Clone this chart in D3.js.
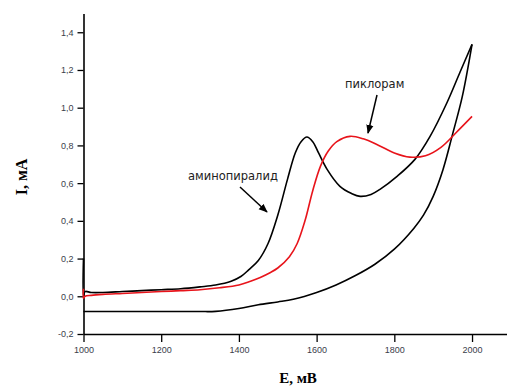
<!DOCTYPE html>
<html>
<head>
<meta charset="utf-8">
<script src="https://cdn.jsdelivr.net/npm/d3@7"></script>
<style>
  body { margin: 0; background: #fff; }
  svg { display: block; }
  .tick text { font-family: "Liberation Sans", Arial, sans-serif; font-size: 9px; fill: #3a3d4a; }
</style>
</head>
<body>
<svg id="chart" width="507" height="387"></svg>
<script>
// aminopyralid, forward scan (black)
const aminoFwdE = [1000, 1000, 1004, 1020, 1050, 1100, 1150, 1200, 1250, 1300, 1340, 1380, 1405, 1425, 1450, 1475, 1500, 1525, 1545, 1560, 1575, 1590, 1605, 1627, 1660, 1690, 1712, 1740, 1763, 1807, 1853, 1892, 1936, 1969, 2000];
const aminoFwdI = [0.20, 0.00, 0.025, 0.02, 0.02, 0.025, 0.03, 0.035, 0.04, 0.05, 0.06, 0.08, 0.105, 0.14, 0.19, 0.28, 0.43, 0.62, 0.76, 0.82, 0.845, 0.82, 0.76, 0.673, 0.583, 0.545, 0.53, 0.54, 0.567, 0.636, 0.726, 0.848, 1.029, 1.188, 1.336];
// aminopyralid, reverse scan (black)
const aminoRevE = [2000, 1975, 1950, 1925, 1900, 1875, 1850, 1800, 1750, 1700, 1650, 1600, 1540, 1500, 1450, 1400, 1340, 1300, 1200, 1100, 1000];
const aminoRevI = [1.336, 1.06, 0.86, 0.67, 0.53, 0.43, 0.36, 0.25, 0.17, 0.11, 0.06, 0.02, -0.016, -0.03, -0.045, -0.065, -0.08, -0.081, -0.081, -0.081, -0.081];
// picloram (red)
const picloE = [1000, 1000, 1004, 1020, 1050, 1100, 1150, 1200, 1250, 1300, 1350, 1400, 1430, 1455, 1480, 1500, 1530, 1550, 1570, 1590, 1610, 1630, 1652, 1686, 1720, 1760, 1800, 1840, 1880, 1920, 1960, 2000];
const picloI = [0.04, -0.01, 0.0, 0.005, 0.01, 0.015, 0.02, 0.025, 0.03, 0.035, 0.045, 0.06, 0.08, 0.10, 0.125, 0.15, 0.21, 0.28, 0.40, 0.56, 0.69, 0.77, 0.82, 0.848, 0.835, 0.80, 0.76, 0.738, 0.745, 0.79, 0.87, 0.954];

const xMajor = [1000, 1200, 1400, 1600, 1800, 2000];
const xMinor = [1100, 1300, 1500, 1700, 1900, 2100];
const yMajor = [-0.2, 0, 0.2, 0.4, 0.6, 0.8, 1.0, 1.2, 1.4];
const yMinor = [-0.1, 0.1, 0.3, 0.5, 0.7, 0.9, 1.1, 1.3, 1.5];

const svg = d3.select("#chart");

const x = d3.scaleLinear().domain([1000, 2090]).range([83.5, 507]);
const y = d3.scaleLinear().domain([-0.2, 1.5]).range([334, 13.4]);

const fmt = d => d3.format(".1f")(d).replace(".", ",").replace("−", "-");

// axes
const gx = svg.append("g").attr("transform", `translate(0,${y(-0.2)})`);
gx.call(d3.axisBottom(x).tickValues(xMinor).tickSize(4).tickSizeOuter(0).tickFormat(""));
gx.call(d3.axisBottom(x).tickValues(xMajor).tickSize(8).tickSizeOuter(0).tickPadding(5).tickFormat(d3.format("d")));

const gy = svg.append("g").attr("transform", `translate(${x(1000)},0)`);
gy.call(d3.axisLeft(y).tickValues(yMinor).tickSize(3).tickSizeOuter(0).tickFormat(""));
gy.call(d3.axisLeft(y).tickValues(yMajor).tickSize(6).tickSizeOuter(0).tickPadding(4).tickFormat(fmt));

svg.selectAll(".domain").attr("stroke", "#000").attr("stroke-width", 1.6);
svg.selectAll(".tick line").attr("stroke", "#000").attr("stroke-width", 1.3);

// curves
const line = d3.line()
  .x(d => x(d[0]))
  .y(d => y(d[1]))
  .curve(d3.curveCatmullRom.alpha(0.5));

const series = [
  { e: aminoFwdE, i: aminoFwdI, color: "#000" },
  { e: aminoRevE, i: aminoRevI, color: "#000" },
  { e: picloE, i: picloI, color: "#e8141b" }
];

svg.append("g").selectAll("path")
  .data(series)
  .join("path")
  .attr("fill", "none")
  .attr("stroke", d => d.color)
  .attr("stroke-width", 1.6)
  .attr("d", d => line(d.e.map((v, k) => [v, d.i[k]])));

// annotations
svg.append("defs").append("marker")
  .attr("id", "arr")
  .attr("viewBox", "0 0 10 10")
  .attr("refX", 9).attr("refY", 5)
  .attr("markerWidth", 6).attr("markerHeight", 6)
  .attr("orient", "auto")
  .append("path").attr("d", "M0,1 L10,5 L0,9 Z").attr("fill", "#000");

const notes = [
  { text: "аминопиралид", tx: 188, ty: 180, x1: 240, y1: 187, x2: 267, y2: 212 },
  { text: "пиклорам", tx: 345, ty: 88, x1: 377, y1: 95, x2: 368, y2: 133 }
];

svg.append("g").selectAll("text")
  .data(notes)
  .join("text")
  .attr("x", d => d.tx).attr("y", d => d.ty)
  .attr("font-family", "DejaVu Sans, sans-serif")
  .attr("font-size", 11.5)
  .attr("fill", "#222")
  .text(d => d.text);

svg.append("g").selectAll("line")
  .data(notes)
  .join("line")
  .attr("x1", d => d.x1).attr("y1", d => d.y1)
  .attr("x2", d => d.x2).attr("y2", d => d.y2)
  .attr("stroke", "#000").attr("stroke-width", 1.5)
  .attr("marker-end", "url(#arr)");

// axis titles
svg.append("text")
  .attr("transform", "translate(27,177) rotate(-90)")
  .attr("text-anchor", "middle")
  .attr("font-family", "Liberation Serif, Times New Roman, serif")
  .attr("font-weight", "bold")
  .attr("font-size", 16)
  .text("I, мА");

svg.append("text")
  .attr("x", 298).attr("y", 383)
  .attr("text-anchor", "middle")
  .attr("font-family", "Liberation Serif, Times New Roman, serif")
  .attr("font-weight", "bold")
  .attr("font-size", 15)
  .text("E, мВ");
</script>
</body>
</html>
